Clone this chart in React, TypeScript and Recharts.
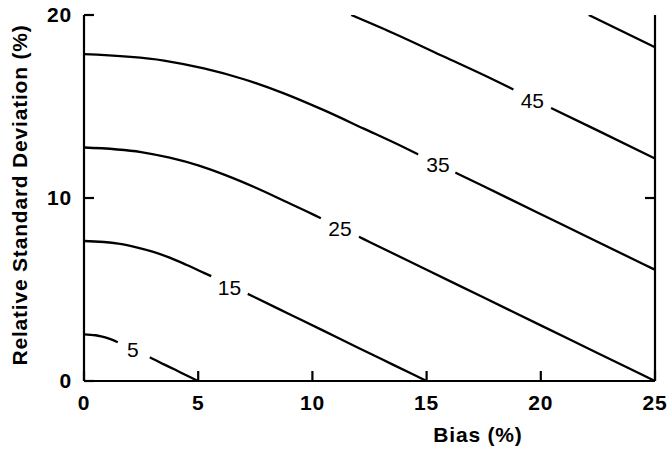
import React from 'react';
import { ComposedChart, Line, XAxis, YAxis, ReferenceDot } from 'recharts';

// Axis ticks
const xTicks = [0, 5, 10, 15, 20, 25];
const xTicksTop = [5, 10, 15, 20];
const yTicks = [0, 10, 20];
const yTicksRight = [10];

// Contour lines (Bias %, RSD %); null marks the gap where the label sits
const bias5 = [0, 0.5, 0.75, 1, 1.25, 1.48, 2.14, 2.88, 3, 3.5, 4, 4.5, 5];
const rsd5 = [2.55, 2.5, 2.44, 2.36, 2.25, 2.12, null, 1.29, 1.22, 0.91, 0.61, 0.3, 0];

const bias15 = [0, 1.5, 2.25, 3, 3.75, 4.5, 5.25, 5.57, 6.37, 7.17, 7.5, 9, 10.5, 12, 13.5, 15];
const rsd15 = [7.65, 7.51, 7.32, 7.07, 6.74, 6.34, 5.91, 5.73, null, 4.76, 4.56, 3.65, 2.74, 1.82, 0.91, 0];

const bias25 = [0, 2.5, 3.75, 5, 6.25, 7.5, 8.75, 10, 10.37, 11.21, 12.04, 12.5, 15, 17.5, 20, 22.5, 25];
const rsd25 = [12.76, 12.51, 12.2, 11.78, 11.22, 10.57, 9.85, 9.12, 8.89, null, 7.88, 7.6, 6.08, 4.56, 3.04, 1.52, 0];

const bias35 = [0, 3.5, 5.25, 7, 8.75, 10.5, 12.25, 14, 14.63, 15.5, 16.26, 17.5, 21, 24.5, 25];
const rsd35 = [17.86, 17.51, 17.08, 16.49, 15.72, 14.8, 13.79, 12.77, 12.38, null, 11.39, 10.64, 8.51, 6.38, 6.08];

const bias45 = [11.7, 13.5, 15.75, 18, 18.8, 19.63, 20.45, 22.5, 25];
const rsd45 = [20, 19.03, 17.73, 16.42, 15.93, null, 14.92, 13.68, 12.16];

const bias55 = [22.1, 25];
const rsd55 = [20, 18.24];

// Contour labels
const labelValues = ['5', '15', '25', '35', '45'];
const labelBias = [2.14, 6.37, 11.21, 15.5, 19.63];
const labelRsd = [1.69, 5.12, 8.31, 11.8, 15.3];

const toPoints = (xs: number[], ys: (number | null)[]) => xs.map((x, i) => ({ x, y: ys[i] }));

const contours = [
  { key: 'c5', data: toPoints(bias5, rsd5) },
  { key: 'c15', data: toPoints(bias15, rsd15) },
  { key: 'c25', data: toPoints(bias25, rsd25) },
  { key: 'c35', data: toPoints(bias35, rsd35) },
  { key: 'c45', data: toPoints(bias45, rsd45) },
  { key: 'c55', data: toPoints(bias55, rsd55) },
];

const FONT = '"Liberation Sans", Arial, Helvetica, sans-serif';
const tickStyle = { fill: '#000', fontSize: 21, fontWeight: 'bold' as const, fontFamily: FONT, letterSpacing: 0.8 };
const lineStyle = { stroke: '#000', strokeWidth: 2.2 };

export default function App() {
  return (
    <div style={{ position: 'absolute', left: 0, top: 0, background: '#fff' }}>
      <ComposedChart width={667} height={450} margin={{ top: 15, right: 2, bottom: 0, left: 0 }}>
        <XAxis
          xAxisId="b"
          type="number"
          dataKey="x"
          domain={[0, 25]}
          allowDataOverflow
          ticks={xTicks}
          interval={0}
          tickSize={-10}
          tickMargin={24}
          height={69}
          axisLine={lineStyle}
          tickLine={lineStyle}
          tick={tickStyle}
          label={{
            content: () => (
              <text x={478} y={442} textAnchor="middle" fill="#000" fontSize={21} fontWeight="bold" fontFamily={FONT} letterSpacing={0.8}>
                Bias (%)
              </text>
            ),
          }}
        />
        <XAxis
          xAxisId="t"
          orientation="top"
          type="number"
          dataKey="x"
          domain={[0, 25]}
          allowDataOverflow
          ticks={xTicksTop}
          interval={0}
          tickSize={-10}
          height={0}
          axisLine={lineStyle}
          tickLine={lineStyle}
          tickFormatter={() => ''}
        />
        <YAxis
          yAxisId="l"
          type="number"
          domain={[0, 20]}
          allowDataOverflow
          ticks={yTicks}
          interval={0}
          tickSize={-10}
          tickMargin={22}
          width={84}
          axisLine={lineStyle}
          tickLine={lineStyle}
          tick={tickStyle}
          label={{
            content: () => (
              <text x={27} y={195} transform="rotate(-90, 27, 195)" textAnchor="middle" fill="#000" fontSize={21} fontWeight="bold" fontFamily={FONT} letterSpacing={0.8}>
                Relative Standard Deviation (%)
              </text>
            ),
          }}
        />
        <YAxis
          yAxisId="r"
          orientation="right"
          type="number"
          domain={[0, 20]}
          allowDataOverflow
          ticks={yTicksRight}
          interval={0}
          tickSize={-10}
          width={10}
          axisLine={lineStyle}
          tickLine={lineStyle}
          tickFormatter={() => ''}
        />
        {contours.map((c) => (
          <Line
            key={c.key}
            xAxisId="b"
            yAxisId="l"
            data={c.data}
            dataKey="y"
            type="monotone"
            stroke="#000"
            strokeWidth={2.3}
            dot={false}
            activeDot={false}
            connectNulls={false}
            isAnimationActive={false}
          />
        ))}
        {labelValues.map((v, i) => (
          <ReferenceDot
            key={v}
            xAxisId="b"
            yAxisId="l"
            x={labelBias[i]}
            y={labelRsd[i]}
            r={0}
            shape={(p: any) => (
              <text x={p.cx} y={p.cy} dy="0.35em" textAnchor="middle" fill="#000" fontSize={21} fontFamily={FONT}>
                {v}
              </text>
            )}
          />
        ))}
      </ComposedChart>
    </div>
  );
}
